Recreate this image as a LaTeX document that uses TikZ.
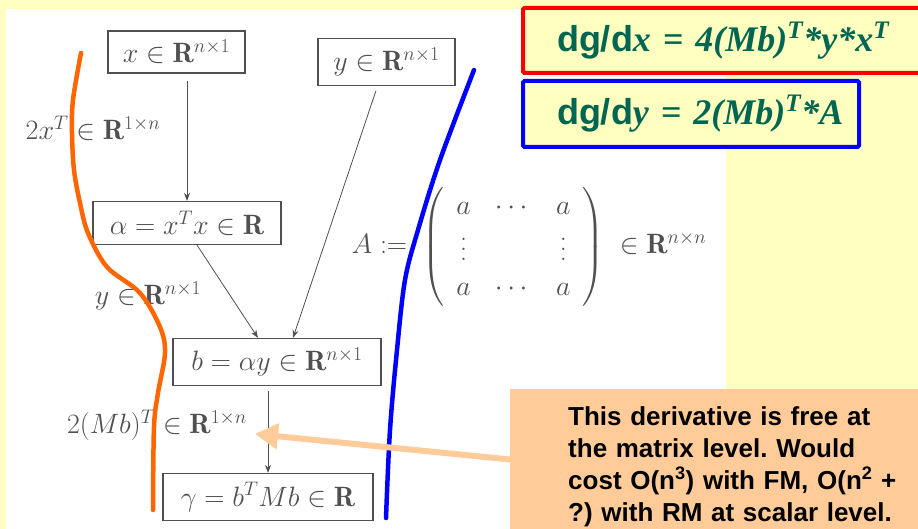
\RequirePackage{fix-cm}
\documentclass[tikz,border=0pt]{standalone}
\usepackage{amsmath}
\usepackage{fontspec}
\newfontfamily\slidesans{Liberation Sans}
\newfontfamily\slideserif{Liberation Serif}
\usepackage{tikz}
\usetikzlibrary{positioning, arrows.meta}
\definecolor{slideYellow}{HTML}{FFFFC0}
\definecolor{gradGreen}{HTML}{006652}
\definecolor{notePeach}{HTML}{FFCC99}
\definecolor{penOrange}{HTML}{FF6600}
\definecolor{penBlue}{HTML}{0000FF}
\definecolor{penRed}{HTML}{FF0000}
\definecolor{texGrey}{HTML}{505050}
\tikzset{
  var/.style    = {draw=texGrey, line width=1.2pt, text=texGrey, inner sep=0pt,
                   font=\fontsize{28}{34}\selectfont},
  lbl/.style    = {text=texGrey, inner sep=0pt, font=\fontsize{28}{34}\selectfont},
  fl/.style     = {-{Stealth[length=8pt, width=6pt]}, draw=texGrey, line width=0.8pt},
  pen/.style    = {line width=4.5pt, line cap=round},
  result/.style = {line width=4pt, fill=slideYellow, rounded corners=1.5pt,
                   anchor=north west, inner xsep=34pt, align=left, text=gradGreen,
                   font=\fontsize{36}{40}\selectfont},
  note/.style   = {fill=notePeach, anchor=west, inner xsep=58pt, align=left,
                   text width=330pt, minimum height=154pt,
                   font=\slidesans\bfseries\fontsize{26}{32}\selectfont\frenchspacing},
  callout/.style= {-{Triangle[length=23pt, width=25pt]}, draw=notePeach, line width=6pt}
}
\newcommand{\dsans}[1]{{\slidesans\bfseries #1}}
\newcommand{\dital}[1]{{\slideserif\bfseries\itshape #1}}
\newcommand{\tallvdots}{\lower5pt\vbox{\baselineskip=10pt\lineskiplimit=0pt\kern8pt\hbox{.}\hbox{.}\hbox{.}}}

\begin{document}
\begin{tikzpicture}[x=1pt, y=1pt]
  \useasboundingbox (0,0) rectangle (918,529);
  \fill[slideYellow] (0,0) rectangle (918,529);
  \fill[white] (6,0) rectangle (726,520);

  % computational graph
  \node[var, minimum width=137pt, minimum height=42pt] (xin) at (176.5,477) {$x \in \mathbf{R}^{n\times 1}$};
  \node[var, minimum width=137pt, minimum height=47pt] (yin) at (386.5,467) {$y \in \mathbf{R}^{n\times 1}$};
  \node[var, minimum width=188pt, minimum height=43pt] (alpha) at (187,306) {$\alpha = x^T x \in \mathbf{R}$};
  \node[var, minimum width=208pt, minimum height=47pt] (bvec) at (277,167) {$b = \alpha y \in \mathbf{R}^{n\times 1}$};
  \node[var, minimum width=210pt, minimum height=47pt] (gam) at (268,32) {$\gamma = b^T M b \in \mathbf{R}$};

  \draw[fl, shorten <=7pt] (alpha.north |- xin.south) -- (alpha.north);
  \draw[fl] ([xshift=10pt]alpha.south) -- ([xshift=-19pt]bvec.north);
  \draw[fl, shorten <=5pt] ([xshift=-9pt]yin.south) -- ([xshift=16pt]bvec.north);
  \draw[fl, shorten <=5pt] ([xshift=-9pt]bvec.south) -- ([xshift=0pt]gam.north);

  \node[lbl] (dxl) at (93,401) {$2x^T \in \mathbf{R}^{1\times n}$};
  \node[lbl] (dal) at (148,233) {$y \in \mathbf{R}^{n\times 1}$};
  \node[lbl] (dbl) at (157,104) {$2(Mb)^T \in \mathbf{R}^{1\times n}$};

  \node[lbl] (amat) at (529,282) {{\arraycolsep=12pt\def\arraystretch{1.2}%
    $A :=\; \left(\begin{array}{ccc} a & \cdots & a\\ \tallvdots & & \tallvdots\\ a & \cdots & a \end{array}\right)
    \;\in \mathbf{R}^{n\times n}$}};

  % hand-drawn strokes
  \draw[pen, penOrange] plot[smooth, tension=0.55] coordinates {(81,476) (73,429) (72,396) (74,359)
    (80,326) (88,296) (107,262) (140,236) (160,202) (165,176) (158,136) (154,102) (153,19)};
  \draw[pen, penBlue] plot[smooth, tension=0.55] coordinates {(474,459) (440,369) (418,299)
    (405,249) (397,179) (390,99) (386,11)};

  % derivatives
  \node[result, draw=penRed, minimum width=409pt, minimum height=65pt, text width=341pt] (dgdx) at (521,523)
    {\mbox{\dsans{dg/d}\dital{x = 4(Mb)\textsuperscript{T}*y*x\textsuperscript{T}}}};
  \node[result, draw=penBlue, minimum width=336pt, minimum height=66pt, text width=268pt] (dgdy) at (521,450)
    {\mbox{\dsans{dg/d}\dital{y = 2(Mb)\textsuperscript{T}*A}}};

  % remark
  \node[note] (remark) at (510,62.5) {This derivative is free at\\the matrix level. Would\\
    cost O(n\textsuperscript{3}) with FM, O(n\textsuperscript{2} +\\?) with RM at scalar level.};
  \coordinate (tip) at (255,95);
  \draw[callout] ([yshift=7pt]remark.west) -- (tip);
\end{tikzpicture}
\end{document}
